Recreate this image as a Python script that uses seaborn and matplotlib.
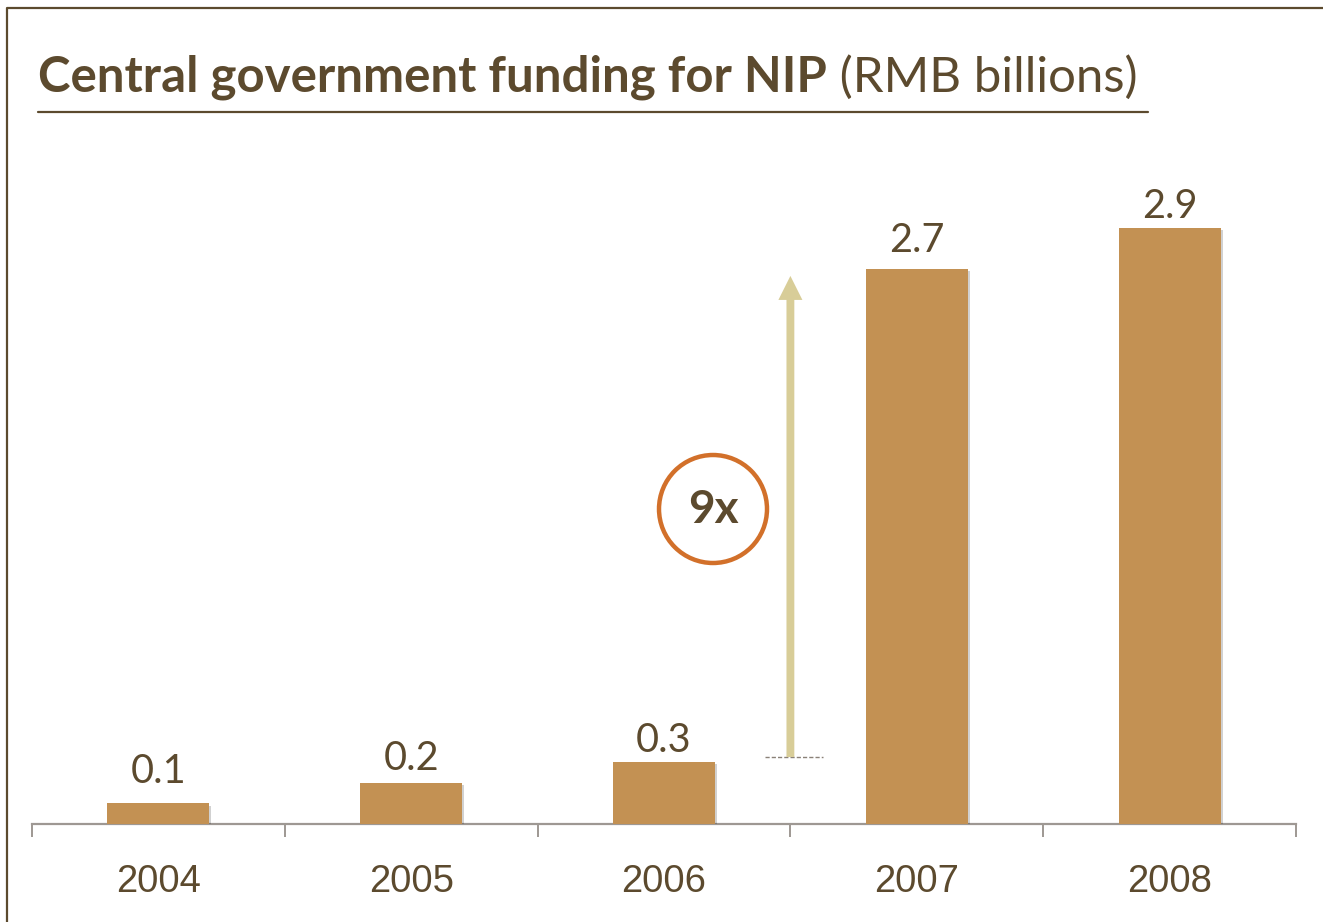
import matplotlib
matplotlib.use("Agg")
import matplotlib.pyplot as plt
import matplotlib.patheffects as pe
from matplotlib.patches import Circle, FancyArrow
from matplotlib.lines import Line2D
import seaborn as sns
import pandas as pd

# Data
years = ["2004", "2005", "2006", "2007", "2008"]
funding = [0.1, 0.2, 0.3, 2.7, 2.9]
value_labels = ["0.1", "0.2", "0.3", "2.7", "2.9"]
growth_label = "9x"
growth_from = 0.326
growth_to = 2.667

title_bold = "Central government funding for NIP"
title_regular = " (RMB billions)"

BROWN = "#5C4A2E"
BAR = "#C39153"
ARROW = "#D8CD98"
ORANGE = "#D2702A"
AXIS = "#9E9893"

sns.set_theme(style="white")
plt.rcParams["font.family"] = ["Liberation Sans", "DejaVu Sans"]

W, H = 1323, 922
fig = plt.figure(figsize=(W / 100, H / 100), dpi=100)

# Axes placement (pixels -> figure fraction)
x0, x1 = 32, 1296
y_base = 824
px_per_unit = 205.5
ymax = 3.5
y_top = y_base - ymax * px_per_unit
ax = fig.add_axes([x0 / W, 1 - y_base / H, (x1 - x0) / W, (y_base - y_top) / H])

df = pd.DataFrame({"year": years, "funding": funding})
sns.barplot(data=df, x="year", y="funding", color=BAR, width=0.403,
            saturation=1, ax=ax, zorder=3)
for p in ax.patches:
    p.set_linewidth(0)
    p.set_path_effects([pe.SimplePatchShadow(offset=(1.5, -1.5), alpha=0.18,
                                             shadow_rgbFace="black"),
                        pe.Normal()])

ax.set_xlim(-0.5, len(years) - 0.5)
ax.set_ylim(0, ymax)
ax.set_xlabel("")
ax.set_ylabel("")
ax.set_yticks([])
for s in ["left", "right", "top"]:
    ax.spines[s].set_visible(False)
ax.spines["bottom"].set_color(AXIS)
ax.spines["bottom"].set_linewidth(1.6)

# Category labels centred, tick marks on category boundaries
ax.set_xticks(range(len(years)))
ax.set_xticklabels(years, fontsize=27.5, color=BROWN)
ax.tick_params(axis="x", which="major", length=0, pad=29)
ax.set_xticks([i - 0.5 for i in range(len(years) + 1)], minor=True)
ax.tick_params(axis="x", which="minor", bottom=True, length=9, width=1.4,
               color=AXIS, direction="out")
ax.patch.set_alpha(0)

# Value labels above bars (gap to bar top in pixels)
label_gap_px = [20, 13, 10, 17, 10]
for i, (v, lab, g) in enumerate(zip(funding, value_labels, label_gap_px)):
    ax.annotate(lab, (i, v), xytext=(0, g * 0.72), textcoords="offset points",
                ha="center", va="baseline", fontsize=28.5, color=BROWN,
                family=["Lato", "DejaVu Sans"])

# Growth arrow between 2006 and 2007
arrow_x = 2.5
ax.plot([2.40, 2.63], [growth_from, growth_from], ls=(0, (3, 1.5)),
        lw=1.0, color="#8A8178", zorder=2)
head_len = 24 / px_per_unit
ax.add_patch(FancyArrow(arrow_x, growth_from, 0, growth_to - growth_from,
                        width=0.031, head_width=0.095, head_length=head_len,
                        length_includes_head=True, color=ARROW, lw=0,
                        zorder=4))

# Circled multiplier
cx_px, cy_px, r_px = 713, 509, 54
fig.patches.append(Circle((cx_px, H - cy_px), r_px, transform=None,
                          facecolor="white", edgecolor=ORANGE, lw=3.2))
fig.text(cx_px / W, 1 - (cy_px + 1) / H, growth_label, ha="center",
         va="center", fontsize=33, fontweight="bold", color=BROWN,
         family=["Lato", "DejaVu Sans"])

# Title with underline; bold part sized to span the heading width
title_x, title_base = 38, 92
t1 = fig.text(title_x / W, 1 - title_base / H, title_bold, ha="left",
              va="baseline", fontsize=35, fontweight="bold", color=BROWN,
              family=["Lato", "DejaVu Sans"])
fig.canvas.draw()
w1 = t1.get_window_extent().width
size = 35 * (826 - title_x) / w1
t1.set_fontsize(size)
fig.canvas.draw()
bb = t1.get_window_extent()
fig.text(bb.x1 / W, 1 - title_base / H, title_regular, ha="left",
         va="baseline", fontsize=size, color=BROWN,
         family=["Lato", "DejaVu Sans"])
fig.add_artist(Line2D([38 / W, 1148 / W], [1 - 112 / H, 1 - 112 / H],
                      transform=fig.transFigure, color=BROWN, lw=1.6))

# Outer frame (left and top edges)
fig.add_artist(Line2D([7 / W, 7 / W, 1], [0, 1 - 8 / H, 1 - 8 / H],
                      transform=fig.transFigure, color=BROWN, lw=1.6))

fig.savefig("out.png", dpi=100, facecolor="white")
